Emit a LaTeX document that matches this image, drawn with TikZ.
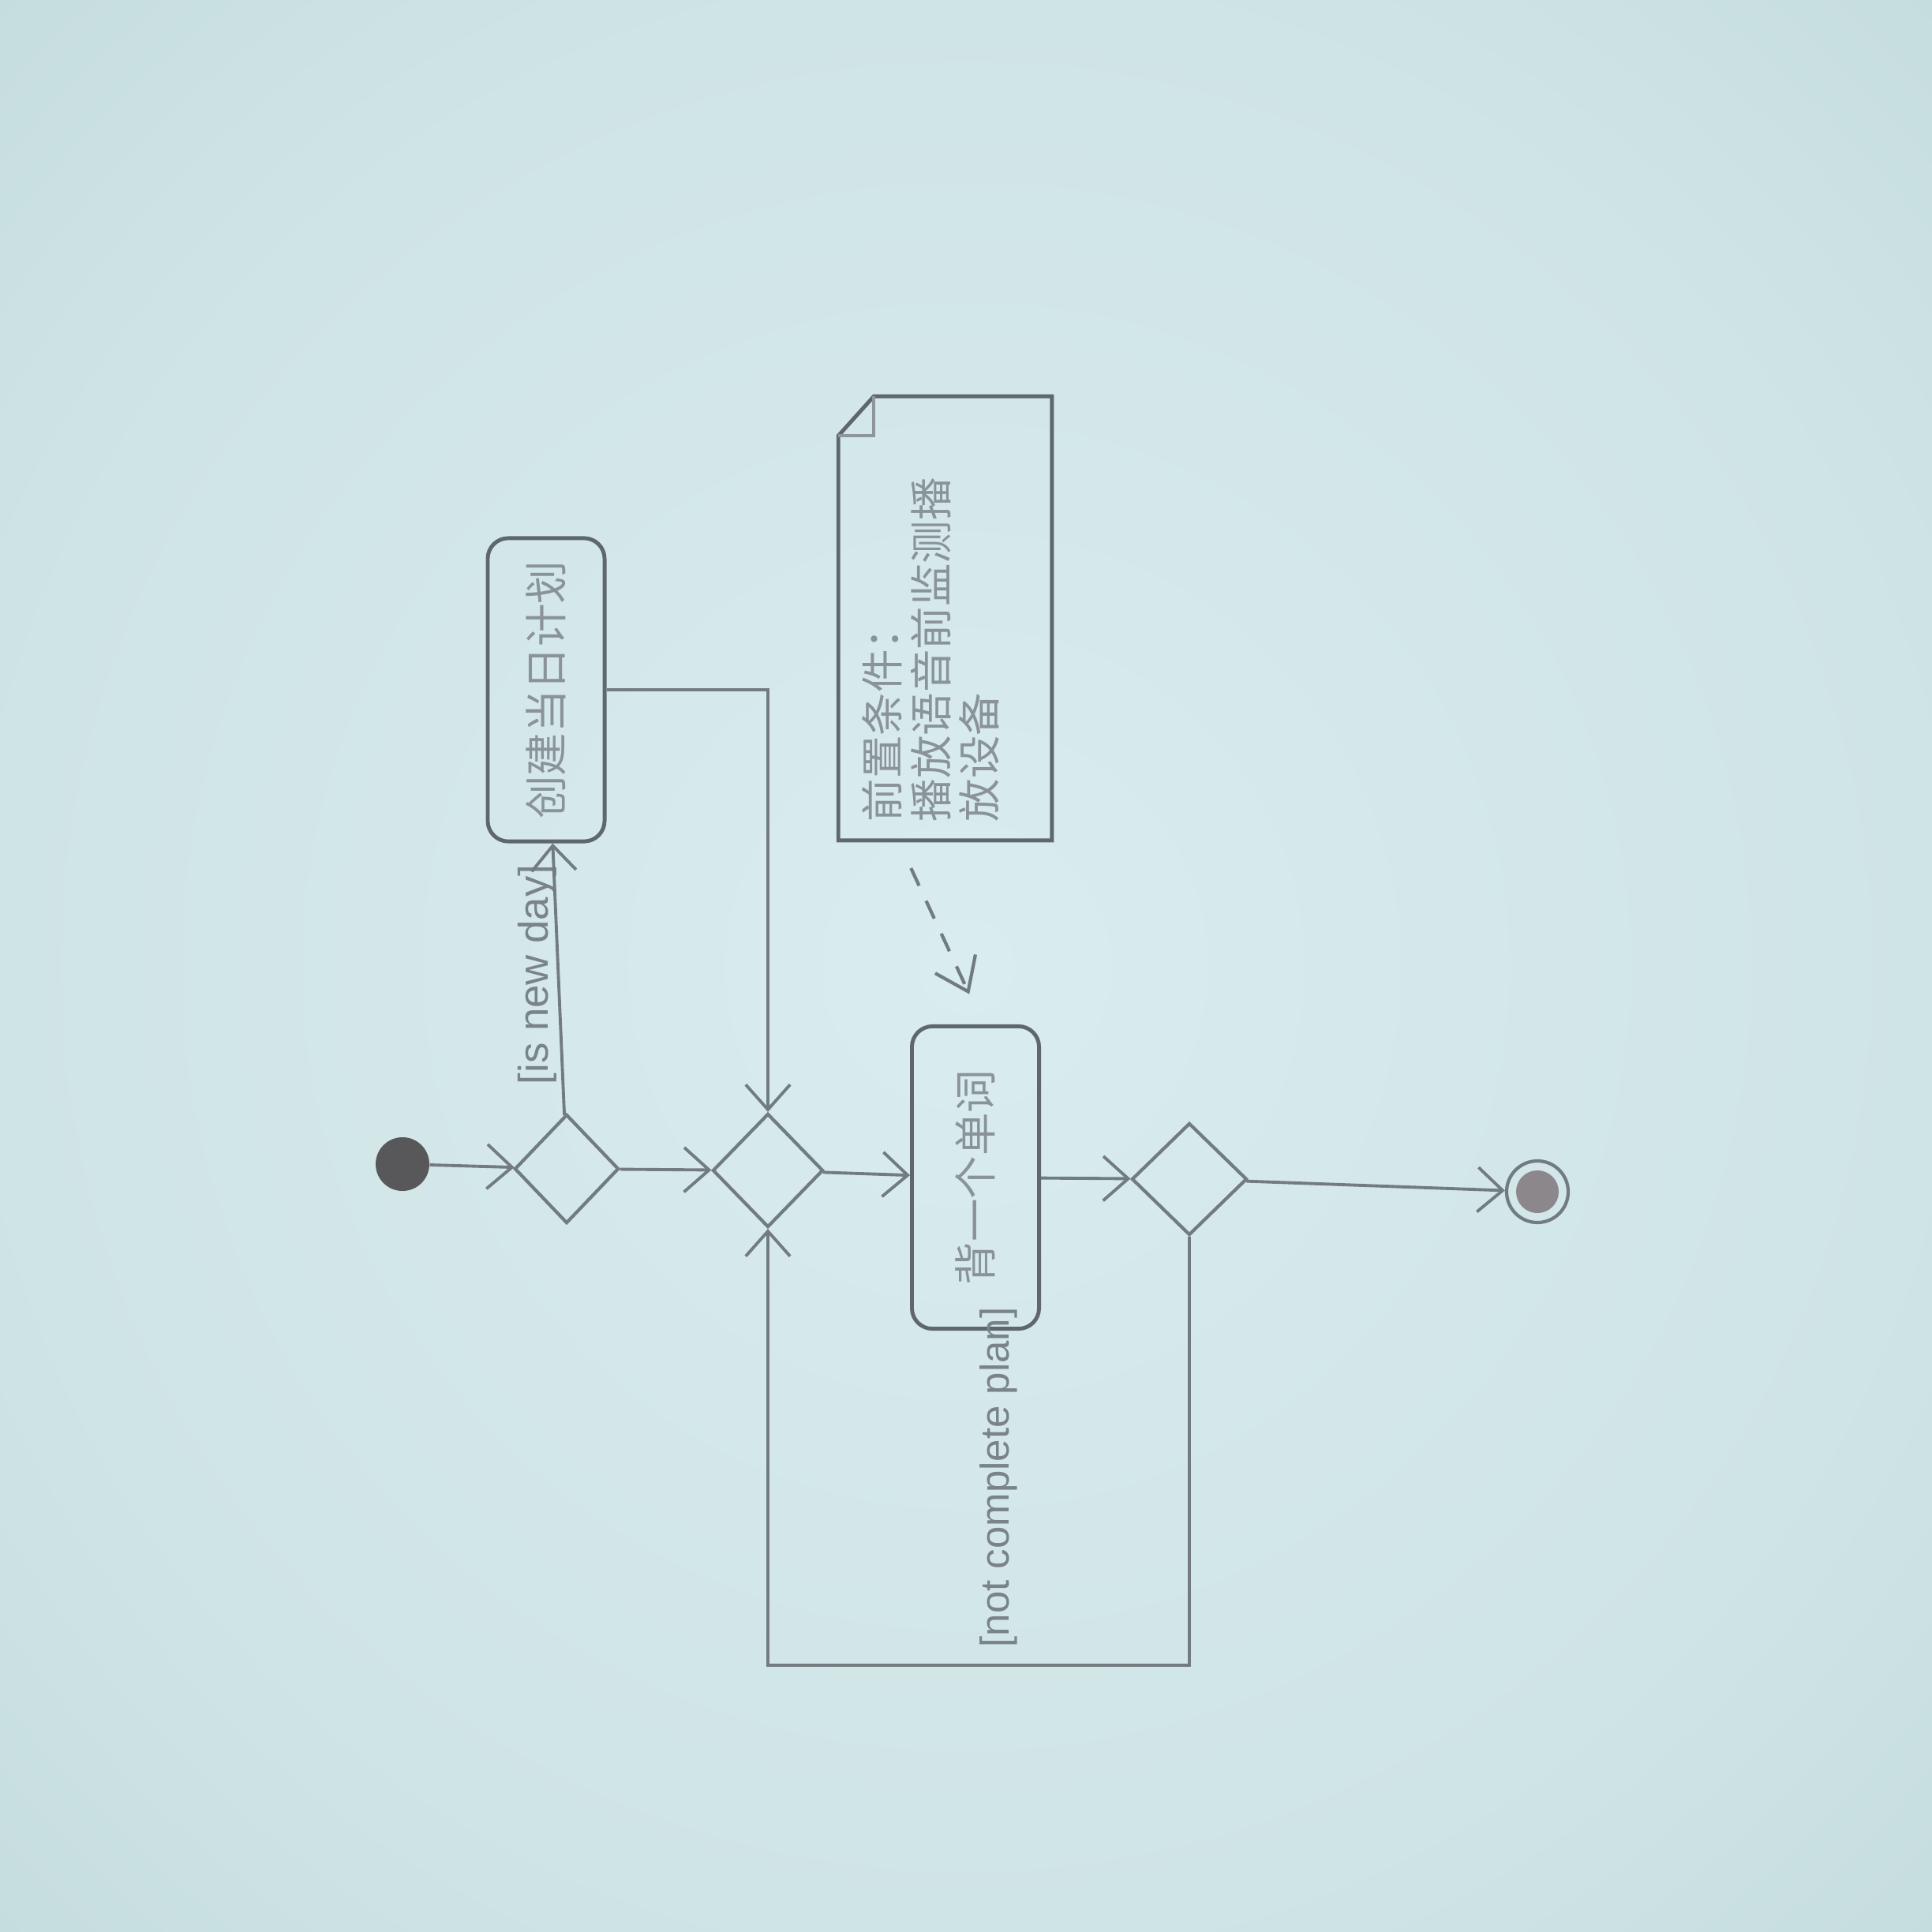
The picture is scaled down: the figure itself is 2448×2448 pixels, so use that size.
\documentclass[tikz,border=0pt]{standalone}
\usepackage{fontspec}
\setmainfont{Liberation Sans}
\newfontfamily\cjk{Noto Sans CJK SC}
\usetikzlibrary{shapes.geometric,arrows.meta,calc,positioning}
\definecolor{bginner}{HTML}{D9ECEF}
\definecolor{bglight}{HTML}{CFE4E6}
\definecolor{bgmid}{HTML}{BBD5D2}
\definecolor{bgouter}{HTML}{A0BFB8}
\definecolor{linegray}{HTML}{727C80}
\definecolor{boxgray}{HTML}{5E676C}
\definecolor{textgray}{HTML}{8A9498}
\definecolor{guardgray}{HTML}{7A8488}
\definecolor{dotgray}{HTML}{58585A}
\definecolor{endgray}{HTML}{8C878B}
\pgfdeclareradialshading{bgshade}{\pgfpoint{0bp}{0bp}}{color(0bp)=(bginner); color(25bp)=(bglight); color(48bp)=(bgmid); color(71bp)=(bgouter)}

\begin{document}
\begin{tikzpicture}[x=0.01cm,y=-0.01cm,
  flowarrow/.style={draw=linegray,line width=1.1pt,-{Straight Barb[length=9pt,width=16pt]}},
  decision/.style={diamond,draw=linegray,line width=1.2pt,inner sep=0pt},
  action/.style={rectangle,draw=boxgray,line width=1.4pt,rounded corners=0.26cm,inner sep=0pt},
  actiontext/.style={rotate=90,text=textgray,font=\cjk\fontsize{15.5pt}{18pt}\selectfont},
  guard/.style={rotate=90,text=guardgray,inner sep=0pt,font=\fontsize{15pt}{18pt}\selectfont},
  startdot/.style={circle,fill=dotgray,minimum size=0.68cm,inner sep=0pt},
  enddot/.style={circle,draw=linegray,line width=1.2pt,minimum size=0.78cm,inner sep=0pt,
    path picture={\fill[endgray] (path picture bounding box.center) circle (0.27cm);}},
  notebox/.style={rectangle,minimum width=2.69cm,minimum height=5.61cm,inner sep=0pt},
  notetext/.style={rotate=90,text=textgray,align=left,inner sep=0pt,font=\cjk\fontsize{15.5pt}{17.5pt}\selectfont},
  notelink/.style={draw=linegray,line width=1.2pt,dash pattern=on 7pt off 6pt,
    shorten <=11pt,shorten >=12pt,-{Straight Barb[length=11pt,width=16pt]}}]
\shade[shading=bgshade] (0,0) rectangle (2448,2448);
\useasboundingbox (0,0) rectangle (2448,2448);

\node[startdot] (q_s) at (510,1475) {};
\node[decision,minimum width=1.32cm,minimum height=1.38cm] (d_new) at (718,1481) {};
\node[action,minimum width=1.48cm,minimum height=3.84cm] (a_plan) at (692,874) {};
\node[actiontext] at (a_plan) {创建当日计划};
\node[decision,minimum width=1.40cm,minimum height=1.44cm] (d_merge) at (973,1483) {};
\node[action,minimum width=1.61cm,minimum height=3.83cm] (a_word) at (1236,1492) {};
\node[actiontext] at (a_word) {背一个单词};
\node[decision,minimum width=1.46cm,minimum height=1.42cm] (d_plan) at (1507,1494) {};
\node[enddot] (q_f) at (1948,1510) {};

\node[notebox] (n_pre) at (1197.5,783.5) {};
\draw[draw=boxgray,line width=1.4pt] ($(n_pre.north west)+(45,0)$) -- (n_pre.north east) -- (n_pre.south east)
  -- (n_pre.south west) -- ($(n_pre.north west)+(0,50)$) -- cycle;
\draw[draw=linegray!80,line width=1.2pt] ($(n_pre.north west)+(45,0)$) |- ($(n_pre.north west)+(0,50)$);
\node[notetext,anchor=north west] (n_txt) at (1092,1042) {前置条件：\\播放语音前监测播\\放设备};

\node[guard] (g_new) at (681,1235) {[is new day]};
\node[guard,font=\fontsize{14.5pt}{17pt}\selectfont] (g_plan) at (1265,1872) {[not complete plan]};

\path[flowarrow] (q_s) edge (d_new)
  (d_new) edge (d_merge)
  (d_new) edge (a_plan)
  (d_merge) edge (a_word)
  (a_word) edge (d_plan)
  (d_plan) edge (q_f);
\draw[flowarrow] (a_plan.east) -| (d_merge.north);
\draw[flowarrow] (d_plan.south) -- ++(0,543) -| (d_merge.south);
\draw[notelink] ($(n_pre.south west)!0.28!(n_pre.south east)$) -- ($(a_word.north west)!0.56!(a_word.north east)$);
\end{tikzpicture}
\end{document}
